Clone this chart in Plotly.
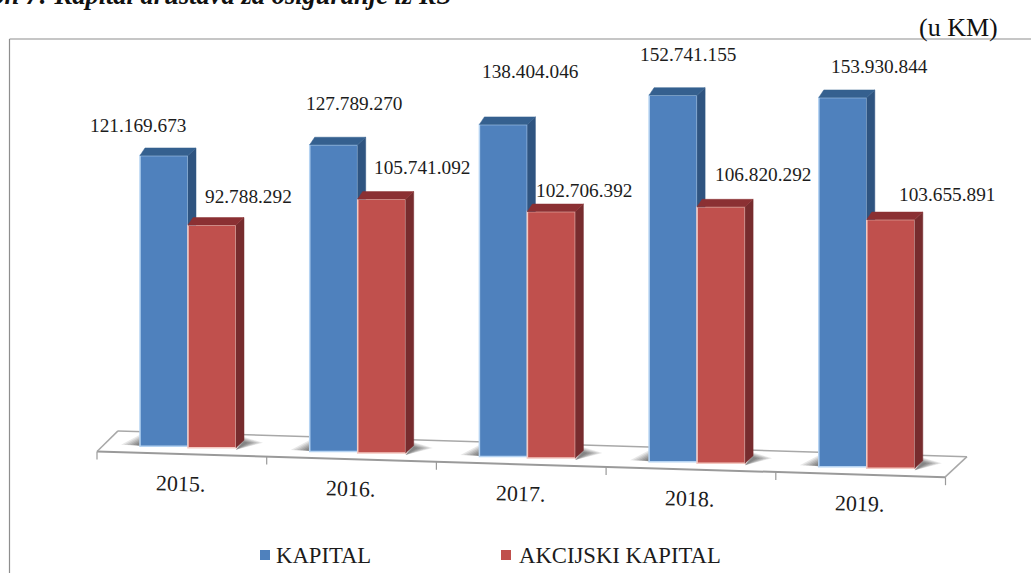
import plotly.graph_objects as go

# ---- data ----
years = ["2015.", "2016.", "2017.", "2018.", "2019."]
kapital = [121169673, 127789270, 138404046, 152741155, 153930844]
akcijski = [92788292, 105741092, 102706392, 106820292, 103655891]
series_names = ["KAPITAL", "AKCIJSKI KAPITAL"]

# ---- label nudges in pixels (dx, dy) from each bar's top ----
kapital_label_shift = [(-26, 30), (20, 41), (27, 53), (15, 41), (37, 31)]
akcijski_label_shift = [(36, 29), (40, 32), (33, 21), (42, 32), (56, 25)]

# ---- geometry ----
W, H = 1031, 573
PX_PER_IDX = 169.7
X0_PX = 188.0            # pixel of the first group's centre
PX_PER_UNIT = 2.40e-6    # vertical scale
Y0_PX = 447.0            # pixel of value 0 under the first group's centre
TILT_PX = 5.15           # floor drop per category
BAR_W = 48 / PX_PER_IDX
DEPTH_X = 8 / PX_PER_IDX
DEPTH_XL = 5 / PX_PER_IDX
DEPTH_Y = 7.5 / PX_PER_UNIT

x_range = [-X0_PX / PX_PER_IDX, (W - X0_PX) / PX_PER_IDX]
y_range = [(Y0_PX - H) / PX_PER_UNIT, Y0_PX / PX_PER_UNIT]


def floor_base(x):
    """Value offset which makes the bars stand on the tilted floor."""
    return -TILT_PX * x / PX_PER_UNIT


idx = list(range(len(years)))
blue_x = [i - BAR_W / 2 for i in idx]
red_x = [i + BAR_W / 2 for i in idx]
blue_base = [floor_base(x) for x in blue_x]
red_base = [floor_base(x) for x in red_x]
blue_top = [b + v for b, v in zip(blue_base, kapital)]
red_top = [b + v for b, v in zip(red_base, akcijski)]

BLUE, BLUE_LINE, BLUE_SIDE, BLUE_TOP = "#4f81bd", "#b5d3f2", "#2f5480", "#35608f"
RED, RED_LINE, RED_SIDE, RED_TOP = "#c0504d", "#f4c9c2", "#772c2e", "#8b3033"
TEXT = "#1c1c1c"
FLOOR = "#a8a8a8"
SERIF = "Liberation Serif"

fig = go.Figure()

fig.add_trace(go.Bar(x=blue_x, y=kapital, base=blue_base, width=BAR_W, name=series_names[0],
                     showlegend=False,
                     marker=dict(color=BLUE, line=dict(color=BLUE_LINE, width=1.5))))
fig.add_trace(go.Bar(x=red_x, y=akcijski, base=red_base, width=BAR_W, name=series_names[1],
                     showlegend=False,
                     marker=dict(color=RED, line=dict(color=RED_LINE, width=1.5))))


def poly(xs, ys, color):
    fig.add_trace(go.Scatter(x=xs + xs[:1], y=ys + ys[:1], mode="lines", fill="toself",
                             fillcolor=color, line=dict(color=color, width=0.5),
                             showlegend=False, hoverinfo="skip"))


for i in idx:
    bx, rx = blue_x[i], red_x[i]
    bt, rt = blue_top[i], red_top[i]
    hw = BAR_W / 2
    # blue side: only the part above the neighbouring red bar is visible
    poly([bx + hw, bx + hw + DEPTH_X, bx + hw + DEPTH_X, bx + hw],
         [bt, bt + DEPTH_Y, rt, rt], BLUE_SIDE)
    # blue top
    poly([bx - hw, bx + hw, bx + hw + DEPTH_X, bx - hw + DEPTH_XL],
         [bt, bt, bt + DEPTH_Y, bt + DEPTH_Y], BLUE_TOP)
    # red side
    poly([rx + hw, rx + hw + DEPTH_X, rx + hw + DEPTH_X, rx + hw],
         [rt, rt + DEPTH_Y, red_base[i] + DEPTH_Y, red_base[i]], RED_SIDE)
    # red top
    poly([rx - hw, rx + hw, rx + hw + DEPTH_X, rx - hw + DEPTH_XL],
         [rt, rt, rt + DEPTH_Y, rt + DEPTH_Y], RED_TOP)

shapes = []


def seg(x0, y0, x1, y1, color=FLOOR, width=1.5):
    shapes.append(dict(type="line", xref="x", yref="y", x0=x0, y0=y0, x1=x1, y1=y1,
                       layer="below", line=dict(color=color, width=width)))


# floor parallelogram (below the bars)
fl_x0, fl_x1 = (97 - X0_PX) / PX_PER_IDX, (945 - X0_PX) / PX_PER_IDX
bk_x0, bk_x1 = (118 - X0_PX) / PX_PER_IDX, (967 - X0_PX) / PX_PER_IDX
FRONT_DROP = 7.2 / PX_PER_UNIT
BACK_RISE = 14 / PX_PER_UNIT
seg(fl_x0, floor_base(fl_x0) - FRONT_DROP, fl_x1, floor_base(fl_x1) - FRONT_DROP, "#9a9a9a", 2)
seg(bk_x0, floor_base(bk_x0) + BACK_RISE, bk_x1, floor_base(bk_x1) + BACK_RISE)
seg(fl_x0, floor_base(fl_x0) - FRONT_DROP, bk_x0, floor_base(bk_x0) + BACK_RISE)
seg(fl_x1, floor_base(fl_x1) - FRONT_DROP, bk_x1, floor_base(bk_x1) + BACK_RISE)
for k in range(len(years) + 1):
    tx = fl_x0 + k
    seg(tx, floor_base(tx) - FRONT_DROP, tx, floor_base(tx) - FRONT_DROP - 8 / PX_PER_UNIT, "#9a9a9a", 1.2)

# soft shadows beside the bars
U = 1 / PX_PER_UNIT
for i in idx:
    for reach, alpha in ((19, 0.14), (16, 0.16), (13, 0.18), (10, 0.22), (7, 0.25), (4, 0.28)):
        rr = reach / PX_PER_IDX
        sx = blue_x[i] - BAR_W / 2
        b = blue_base[i]
        h = 2 + reach * 0.5
        shapes.append(dict(type="path", xref="x", yref="y", layer="below", line=dict(width=0),
                           fillcolor=f"rgba(95,95,95,{alpha})",
                           path=f"M {sx},{b + 0.5 * U} L {sx - rr},{b + 1.5 * U} "
                                f"L {sx},{b + h * U} Z"))
        ex = red_x[i] + BAR_W / 2 + DEPTH_X
        b = red_base[i]
        shapes.append(dict(type="path", xref="x", yref="y", layer="below", line=dict(width=0),
                           fillcolor=f"rgba(95,95,95,{alpha})",
                           path=f"M {ex},{b + (5 + reach * 0.3) * U} L {ex + rr},{b + 5 * U} "
                                f"L {ex - 8 / PX_PER_IDX},{b - 2 * U} Z"))

# frame: left and top edges only, the rest runs off the picture
shapes.append(dict(type="line", xref="paper", yref="paper", x0=9.5 / W, x1=9.5 / W,
                   y0=0, y1=1 - 39 / H, line=dict(color="#8e8e8e", width=1.2)))
shapes.append(dict(type="line", xref="paper", yref="paper", x0=9.5 / W, x1=1,
                   y0=1 - 39 / H, y1=1 - 39 / H, line=dict(color="#8e8e8e", width=1.2)))

annotations = []


def fmt(v):
    return f"{v:,}".replace(",", ".")


for i in idx:
    for bar_x, top, value, shift in ((blue_x[i], blue_top[i], kapital[i], kapital_label_shift[i]),
                                     (red_x[i], red_top[i], akcijski[i], akcijski_label_shift[i])):
        annotations.append(dict(x=bar_x, y=top, xref="x", yref="y", text=fmt(value), showarrow=False,
                                xshift=shift[0], yshift=shift[1], xanchor="center", yanchor="middle",
                                font=dict(family=SERIF, size=19.3, color=TEXT)))
    annotations.append(dict(x=i - 0.04, y=floor_base(i), xref="x", yref="y", text=years[i], showarrow=False,
                            yshift=-36, xanchor="center", yanchor="middle", textangle=1.5,
                            font=dict(family=SERIF, size=22, color=TEXT)))

annotations.append(dict(x=1000 / W, y=1 - 28 / H, xref="paper", yref="paper", text="(u KM)", showarrow=False,
                        xanchor="right", yanchor="middle", font=dict(family=SERIF, size=26, color="#111111")))
annotations.append(dict(x=453 / W, y=1 + 5 / H, xref="paper", yref="paper",
                        text="<b><i>Grafikon 7: Kapital društava za osiguranje iz RS</i></b>",
                        showarrow=False, xanchor="right", yanchor="middle",
                        font=dict(family=SERIF, size=26.5, color="#111111")))

# key at the foot of the chart
key_x = [(260, 274), (501, 517)]
key_colors = [BLUE, RED]
for name, (sq, tx), color in zip(series_names, key_x, key_colors):
    shapes.append(dict(type="rect", xref="paper", yref="paper", x0=sq / W, x1=(sq + 10) / W,
                       y0=1 - 560 / H, y1=1 - 550 / H, fillcolor=color, line=dict(width=0)))
    annotations.append(dict(x=tx / W, y=1 - 555 / H, xref="paper", yref="paper", text=name, showarrow=False,
                            xanchor="left", yanchor="middle", font=dict(family=SERIF, size=22.7, color=TEXT)))

fig.update_layout(
    width=W, height=H, margin=dict(l=0, r=0, t=0, b=0, pad=0, autoexpand=False),
    paper_bgcolor="white", plot_bgcolor="white", barmode="overlay", showlegend=False,
    xaxis=dict(range=x_range, visible=False, fixedrange=True),
    yaxis=dict(range=y_range, visible=False, fixedrange=True),
    shapes=shapes, annotations=annotations,
)

fig.write_html("out.html", config=dict(displayModeBar=False),
               post_script="document.body.style.margin='0';document.body.style.overflow='hidden';")
